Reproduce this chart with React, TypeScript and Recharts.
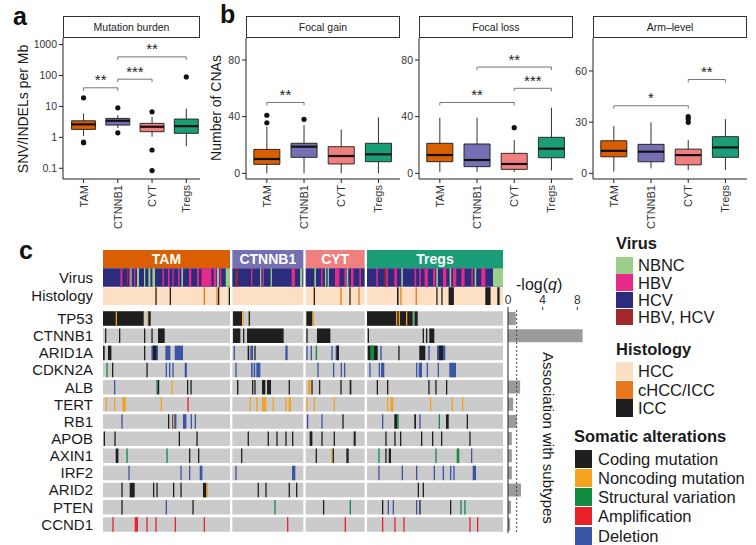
import React from 'react'
import { ComposedChart, BarChart, Bar, Scatter, XAxis, YAxis, ReferenceArea, ReferenceLine } from 'recharts'

const groups = ['TAM', 'CTNNB1', 'CYT', 'Tregs']
const groupColors = ['#D95F02', '#7570B3', '#F08080', '#1B9E77']

// a: mutation burden, SNV/INDELs per Mb (log scale)
const burdenLow = [1.1, 2.0, 1.05, 0.52]
const burdenQ1 = [1.81, 2.49, 1.52, 1.35]
const burdenMedian = [2.63, 3.43, 2.2, 2.3]
const burdenQ3 = [3.43, 4.1, 2.83, 3.9]
const burdenHigh = [5.9, 5.2, 4.6, 8.6]
const burdenOutliers = [[18.9, 0.67, 0.7], [9.0, 1.4], [6.7, 0.39, 0.084], [90]]
const burdenBrackets: [number, number, number, string][] = [[1, 2, 40, '**'], [2, 3, 76, '***'], [2, 4, 400, '**']]

// b: number of CNAs
const gainLow = [0, 0, 0, 0]
const gainQ1 = [6.35, 11.3, 6.6, 8.2]
const gainMedian = [10.1, 18.8, 12.2, 13.4]
const gainQ3 = [16.9, 21.2, 18.8, 21.2]
const gainHigh = [33, 34, 31, 39.5]
const gainOutliers = [[41, 35.7], [38.1], [], []]
const gainBrackets: [number, number, number, string][] = [[1, 2, 50, '**']]

const lossLow = [1, 1, 1, 2]
const lossQ1 = [8.2, 4.7, 2.8, 11]
const lossMedian = [12.9, 9.4, 6.6, 17.4]
const lossQ3 = [21.2, 20.7, 14.1, 25.4]
const lossHigh = [39.2, 39.2, 23.5, 46.3]
const lossOutliers = [[], [], [32.2], []]
const lossBrackets: [number, number, number, string][] = [[1, 3, 50, '**'], [3, 4, 60, '***'], [2, 4, 75, '**']]

const armLow = [1, 2.9, 1.9, 1.9]
const armQ1 = [9.7, 6.8, 5, 9.4]
const armMedian = [13.2, 12.7, 10.7, 15.2]
const armQ3 = [19.1, 17, 14.2, 21.5]
const armHigh = [27.7, 29.9, 19.5, 31.8]
const armOutliers = [[], [], [33.2, 31.8, 29.9], []]
const armBrackets: [number, number, number, string][] = [[1, 3, 39.6, '*'], [3, 4, 55, '**']]

// c: oncoprint
const genes = ['TP53', 'CTNNB1', 'ARID1A', 'CDKN2A', 'ALB', 'TERT', 'RB1', 'APOB', 'AXIN1', 'IRF2', 'ARID2', 'PTEN', 'CCND1']
const groupSizes = [127, 71, 59, 136]
const logQ = [0.9, 8.6, 0, 0, 1.4, 0.6, 1.0, 0.45, 0.45, 0.45, 1.5, 0.35, 0.25]

const virusTypes = ['NBNC', 'HBV', 'HCV', 'HBV, HCV']
const virusColors = ['#9BD08C', '#E7298A', '#2B2C7C', '#A3292C']
const histTypes = ['HCC', 'cHCC/ICC', 'ICC']
const histColors = ['#FDE0C4', '#E8781F', '#1E1E1E']
const altTypes = ['Coding mutation', 'Noncoding mutation', 'Structural variation', 'Amplification', 'Deletion']
const altColors = ['#1F1F1F', '#F5A31F', '#118C40', '#E8212B', '#3A55A6']

// [group, offset, width, virus index] on an HCV background
const virusStripes: [number, number, number, number][] = [
  [0, 17.4, 2, 1], [0, 24, 1, 3], [0, 26, 1.3, 1], [0, 27.4, 1.3, 0], [0, 31, 1.3, 1], [0, 34, 2, 0], [0, 41, 1.3, 0],
  [0, 45.4, 2, 0], [0, 49.4, 2.6, 0], [0, 59.4, 1.6, 1], [0, 65, 1.6, 1], [0, 69.4, 1.3, 1], [0, 75, 1.6, 1],
  [0, 78.4, 1.6, 0], [0, 86, 2.3, 1], [0, 94, 2, 1], [0, 98.4, 10, 1], [0, 110.7, 2.6, 1], [0, 114, 2, 0],
  [0, 116.7, 1.6, 1], [0, 122.7, 4.3, 0],
  [1, 3.3, 2, 3], [1, 18.7, 1.3, 1], [1, 27.7, 1.3, 0], [1, 30.3, 1.3, 1], [1, 38.3, 1.3, 0], [1, 59.3, 3.3, 1], [1, 67.7, 2.3, 0],
  [2, 8.7, 1.6, 0], [2, 15.3, 1.6, 1], [2, 19.3, 1.3, 0], [2, 22, 1.3, 0], [2, 29.3, 4.4, 1], [2, 38.7, 2, 1],
  [2, 41, 1.6, 0], [2, 45.3, 2.6, 1], [2, 53.7, 1.6, 1],
  [3, 9.3, 1.6, 1], [3, 17.6, 1.6, 3], [3, 19.3, 1.6, 1], [3, 27.3, 2.6, 1], [3, 34.3, 1.6, 0], [3, 47.6, 1.6, 1],
  [3, 52.3, 1.6, 1], [3, 57.6, 3.3, 1], [3, 66, 2.3, 1], [3, 69.3, 1.6, 0], [3, 76, 3.3, 1], [3, 82.6, 1.6, 0],
  [3, 86, 3.3, 1], [3, 94.3, 3.3, 1], [3, 104.3, 1.6, 1], [3, 107.6, 1.6, 0], [3, 114.3, 4, 1], [3, 126, 10, 0],
]

// [group, offset, width, histology index] on an HCC background
const histStripes: [number, number, number, number][] = [
  [0, 52.4, 1.3, 2], [0, 66.7, 1.3, 2], [0, 100.7, 1.3, 1], [0, 113.4, 1.3, 1], [0, 115, 1.3, 2], [0, 125.7, 1.3, 2],
  [2, 8, 1.3, 2], [2, 34.7, 1.3, 1], [2, 43.7, 1.3, 2], [2, 52.7, 1.3, 1],
  [3, 30, 1.6, 2], [3, 33.3, 1.3, 1], [3, 48.6, 1.3, 1], [3, 69.3, 1.3, 2], [3, 74.3, 1.3, 2], [3, 81.6, 5.3, 2],
  [3, 118.3, 5.3, 2], [3, 130.3, 2.3, 2],
]

// [group, offset, width, alteration index] per gene
const alterations: Record<string, [number, number, number, number][]> = {
  TP53: [[0, 0, 40.7, 0], [0, 12.7, 1.3, 1], [0, 44.4, 1.3, 1], [0, 45.3, 2.4, 0], [1, 0.7, 9, 0], [1, 10.3, 1.3, 1],
    [1, 16.3, 1.4, 0], [2, 0.7, 6, 0], [2, 7, 1.4, 1], [3, 0, 45.7, 0], [3, 29, 1.3, 1], [3, 31.7, 1.3, 1],
    [3, 39, 1.3, 1], [3, 46.5, 1.4, 2], [3, 48, 2.7, 0]],
  CTNNB1: [[0, 2, 1.3, 0], [0, 16, 1.3, 0], [0, 41, 1.3, 0], [0, 48.4, 1.3, 0], [0, 55, 6.7, 0], [1, 0.7, 7.3, 0],
    [1, 10.7, 1.3, 0], [1, 14.7, 36.6, 0], [2, 0.7, 1.3, 0], [2, 11.3, 13.4, 0], [3, 0.7, 1.3, 0], [3, 55.7, 1.3, 0],
    [3, 59, 1.3, 0], [3, 62.3, 5, 0]],
  ARID1A: [[0, 0, 1.7, 0], [0, 5, 3.4, 0], [0, 41, 1.3, 0], [0, 48.4, 6.6, 4], [0, 50, 3.4, 0], [0, 62.4, 5, 4],
    [0, 71.7, 8.3, 4], [1, 1.3, 1.3, 4], [1, 15.3, 1.6, 0], [1, 18, 2.7, 4], [1, 22, 1.3, 0], [1, 53, 2.3, 4],
    [2, 0.7, 1.3, 4], [2, 5, 1.3, 4], [2, 10, 1.4, 2], [2, 25.7, 1.3, 4], [2, 30, 3.3, 4], [2, 31, 2.3, 0],
    [3, 0.7, 10, 0], [3, 3.3, 3.7, 2], [3, 13.3, 1.4, 4], [3, 31.3, 1.3, 0], [3, 52.3, 6, 0], [3, 61.3, 1.4, 4],
    [3, 70, 8.3, 4], [3, 72, 4, 0]],
  CDKN2A: [[0, 3.4, 1.3, 2], [0, 9, 1.3, 0], [0, 43.4, 1.3, 0], [0, 62.7, 1.3, 4], [0, 66, 1.3, 4], [0, 69.4, 1.3, 4],
    [0, 81.7, 2.2, 4], [1, 3, 1.3, 4], [1, 18.7, 1.6, 4], [1, 21.3, 1.6, 4], [1, 24, 4, 4], [2, 11.7, 1.3, 4],
    [2, 27.3, 1.3, 4], [2, 35, 1.3, 4], [2, 38.3, 1.3, 4], [3, 2.3, 1.3, 4], [3, 11.7, 1.3, 4], [3, 14, 3.3, 4],
    [3, 49, 1.3, 4], [3, 51.7, 3.3, 4], [3, 59.7, 1.3, 4], [3, 70.7, 1.3, 4], [3, 82.3, 6.7, 4]],
  ALB: [[0, 11, 1.3, 4], [0, 53.4, 1.2, 2], [0, 54.6, 1.6, 0], [0, 68.4, 1.3, 1], [0, 84, 1.3, 0], [0, 87.4, 1.3, 0],
    [1, 4.7, 1.4, 0], [1, 19.7, 1.3, 0], [1, 22, 1.3, 0], [1, 29.7, 3.3, 0], [1, 34.7, 4, 0], [1, 56.3, 1.3, 0],
    [2, 2.3, 2.4, 1], [2, 5.7, 1.3, 0], [2, 13.3, 1.3, 0], [2, 34.7, 1.3, 0], [2, 44, 1.7, 0],
    [3, 9.7, 1.3, 0], [3, 20, 1.3, 0], [3, 61.3, 1.3, 0], [3, 68.3, 1.3, 0], [3, 79, 1.3, 0]],
  TERT: [[0, 2.7, 1.3, 1], [0, 11, 1.3, 1], [0, 19.4, 3.3, 1], [0, 57.7, 1.3, 1], [0, 84.4, 1.3, 3],
    [1, 17.3, 1.3, 1], [1, 24, 1.3, 1], [1, 29.7, 4.3, 1], [1, 40.3, 1.3, 1], [1, 53, 1.3, 1], [1, 56.3, 2.4, 1],
    [2, 0.7, 1.3, 1], [2, 8, 1.3, 1], [2, 28, 1.3, 1],
    [3, 20, 1.3, 1], [3, 23.3, 3, 1], [3, 63, 1.3, 1], [3, 84.7, 1.3, 1], [3, 95, 1.3, 1]],
  RB1: [[0, 18.4, 1.3, 4], [0, 65, 1.3, 0], [0, 69, 4.4, 4], [0, 70, 1.3, 1], [0, 80, 3.4, 4], [0, 87.7, 1.3, 4],
    [0, 91.7, 1.3, 4], [2, 1.3, 1.3, 4], [2, 15.7, 1.3, 4], [2, 36.7, 1.3, 0],
    [3, 15, 1.3, 4], [3, 27.3, 3, 0], [3, 30.3, 1.4, 2], [3, 47.3, 1.7, 0], [3, 52.3, 1.3, 4], [3, 71.7, 1.3, 2],
    [3, 79, 2.7, 0], [3, 99.7, 1.3, 0]],
  APOB: [[0, 0.7, 1.3, 0], [0, 11.4, 1.3, 0], [0, 75.7, 1.3, 0], [0, 93.4, 1.3, 0],
    [1, 15.3, 1.3, 0], [1, 35.3, 1.3, 0], [1, 44, 1.3, 0], [1, 53, 1.3, 0], [1, 59.7, 1.3, 0],
    [2, 4, 2.7, 0], [2, 15.7, 1.3, 0], [2, 28, 1.3, 0], [2, 48, 2, 0],
    [3, 18.3, 1.3, 0], [3, 27.3, 1.3, 0], [3, 33, 1.3, 0], [3, 54, 1.3, 0], [3, 65, 1.3, 0], [3, 74, 1.3, 0],
    [3, 102.3, 1.3, 0]],
  AXIN1: [[0, 12.7, 2.7, 0], [0, 23.4, 1.3, 2], [0, 63.4, 1.3, 2], [0, 86, 1.3, 0], [0, 95, 1.3, 0],
    [1, 8.7, 1.3, 0], [2, 10, 1.3, 0], [2, 25.7, 1.3, 1], [2, 27, 1.3, 0], [2, 40.7, 2.3, 0],
    [3, 11.3, 1.3, 2], [3, 18.3, 1.3, 0], [3, 21.7, 2.3, 0], [3, 68.3, 1.3, 2], [3, 89.7, 2.6, 2], [3, 104, 1.3, 4]],
  IRF2: [[0, 25.4, 1.3, 4], [0, 77.4, 1.3, 4], [0, 86, 1.3, 4], [0, 96.7, 2.7, 4], [1, 3, 1.3, 4], [1, 59.7, 3.3, 4],
    [3, 11.3, 1.3, 4], [3, 34.7, 1.3, 4], [3, 49, 1.3, 4], [3, 66.7, 1.3, 4], [3, 75.7, 1.3, 4], [3, 83, 1.3, 4],
    [3, 86.3, 1.3, 4], [3, 105.7, 3.3, 4]],
  ARID2: [[0, 18.4, 1.3, 0], [0, 26.7, 5, 0], [0, 50, 1.3, 0], [0, 53.4, 1.3, 0], [0, 70, 1.3, 0], [0, 77.4, 1.3, 0],
    [0, 100, 3.4, 0], [0, 103.6, 1.3, 1], [1, 25.3, 1.3, 0], [1, 33, 1.3, 0], [1, 56.3, 1.3, 0], [1, 63.7, 1.3, 0],
    [3, 50.7, 1.3, 0], [3, 55.7, 1.3, 0]],
  PTEN: [[0, 18.4, 1.3, 0], [0, 62.7, 1.3, 4], [0, 89.4, 1.3, 0], [1, 42, 1.3, 2], [2, 17.3, 1.3, 0], [2, 44, 1.3, 2],
    [3, 15, 1.3, 0], [3, 20.7, 1.3, 4], [3, 25.7, 1.3, 4], [3, 49, 1.3, 4], [3, 52.3, 1.3, 0], [3, 83, 1.3, 0],
    [3, 93.3, 1.3, 2], [3, 97.3, 1.3, 2]],
  CCND1: [[0, 9.4, 1.3, 3], [0, 31.7, 3.3, 3], [0, 43.4, 1.3, 3], [0, 52.4, 1.3, 3], [0, 71.7, 1.3, 3],
    [0, 100.7, 1.3, 3], [1, 54.7, 1.3, 3], [2, 39, 1.3, 3],
    [3, 15, 1.3, 3], [3, 27.3, 1.3, 3], [3, 36.3, 1.3, 3], [3, 102.3, 1.3, 3], [3, 110, 1.3, 3]],
}

const FONT = "'Liberation Sans', Arial, Helvetica, sans-serif"
const TOTAL = 400
const gap = (TOTAL - groupSizes.reduce((a, b) => a + b, 0)) / (groupSizes.length - 1)
const starts = groupSizes.map((_, i) => groupSizes.slice(0, i).reduce((a, b) => a + b + gap, 0))

type Facet = {
  title: string
  left: number
  plotW: number
  yW: number
  xDomain: [number, number]
  domain: [number, number]
  ticks: number[]
  log?: boolean
  low: number[]
  q1: number[]
  med: number[]
  q3: number[]
  high: number[]
  outliers: number[][]
  brackets: [number, number, number, string][]
}

const facets: Facet[] = [
  { title: 'Mutation burden', left: 63, plotW: 137, yW: 63, xDomain: [0.4, 4.4], domain: [0.045, 1630], ticks: [0.1, 1, 10, 100, 1000], log: true,
    low: burdenLow, q1: burdenQ1, med: burdenMedian, q3: burdenQ3, high: burdenHigh, outliers: burdenOutliers, brackets: burdenBrackets },
  { title: 'Focal gain', left: 246, plotW: 154, yW: 26, xDomain: [0.44, 4.58], domain: [-4, 95.5], ticks: [0, 40, 80],
    low: gainLow, q1: gainQ1, med: gainMedian, q3: gainQ3, high: gainHigh, outliers: gainOutliers, brackets: gainBrackets },
  { title: 'Focal loss', left: 419, plotW: 154, yW: 26, xDomain: [0.44, 4.58], domain: [-4, 95.5], ticks: [0, 40, 80],
    low: lossLow, q1: lossQ1, med: lossMedian, q3: lossQ3, high: lossHigh, outliers: lossOutliers, brackets: lossBrackets },
  { title: 'Arm\u2013level', left: 593, plotW: 154, yW: 26, xDomain: [0.44, 4.58], domain: [-3.3, 79.3], ticks: [0, 30, 60],
    low: armLow, q1: armQ1, med: armMedian, q3: armQ3, high: armHigh, outliers: armOutliers, brackets: armBrackets },
]

const GroupTick = (p: any) => {
  const { x, y, payload } = p
  return (
    <text x={x} y={y} transform={`rotate(-90 ${x} ${y})`} textAnchor="end" dy="0.36em" fontSize={11} fill="#333">
      {groups[Math.round(payload.value) - 1]}
    </text>
  )
}

const bracketShape = (stars: string) => (p: any) => (
  <g>
    <path d={`M${p.x1},${p.y1 + 3}V${p.y1}H${p.x2}V${p.y2 + 3}`} fill="none" stroke="#666" strokeWidth={0.9} />
    <text x={(p.x1 + p.x2) / 2} y={p.y1 - 2.5} textAnchor="middle" fontSize={15} fill="#222">{stars}</text>
  </g>
)

const noMark = () => <g />

function BoxFacet({ f }: { f: Facet }) {
  const hw = 0.35
  const pts = f.outliers.flatMap((vals, i) => vals.map((v) => ({ x: i + 1, y: v })))
  return (
    <>
      <div style={{ position: 'absolute', left: f.left, top: 16, width: f.plotW, height: 22, boxSizing: 'border-box',
        border: '1px solid #333', fontSize: 10.5, color: '#222', textAlign: 'center', lineHeight: '20px' }}>{f.title}</div>
      <div style={{ position: 'absolute', left: f.left - f.yW, top: 0 }}>
        <ComposedChart width={f.yW + f.plotW} height={230} margin={{ top: 38, right: 0, bottom: 0, left: 0 }}>
          <XAxis type="number" dataKey="x" domain={f.xDomain} ticks={[1, 2, 3, 4]} interval={0} allowDataOverflow height={51}
            tickSize={4} tickMargin={2} tick={(p: any) => <GroupTick {...p} />} axisLine={{ stroke: '#222' }} tickLine={{ stroke: '#222' }} />
          <YAxis type="number" dataKey="y" scale={f.log ? 'log' : 'linear'} domain={f.domain} ticks={f.ticks} interval={0}
            allowDataOverflow width={f.yW} tickSize={4} tickMargin={2} tick={{ fontSize: 10.5, fill: '#333' }}
            axisLine={{ stroke: '#222' }} tickLine={{ stroke: '#222' }} />
          {f.q1.map((q, i) => (
            <ReferenceArea key={`box${i}`} x1={i + 1 - hw} x2={i + 1 + hw} y1={q} y2={f.q3[i]} fill={groupColors[i]}
              fillOpacity={1} stroke="#1a1a1a" strokeWidth={0.9} ifOverflow="visible" />
          ))}
          {f.q1.map((q, i) => (
            <ReferenceLine key={`wl${i}`} segment={[{ x: i + 1, y: f.low[i] }, { x: i + 1, y: q }]} stroke="#1a1a1a" strokeWidth={0.9} ifOverflow="visible" />
          ))}
          {f.q3.map((q, i) => (
            <ReferenceLine key={`wh${i}`} segment={[{ x: i + 1, y: q }, { x: i + 1, y: f.high[i] }]} stroke="#1a1a1a" strokeWidth={0.9} ifOverflow="visible" />
          ))}
          {f.med.map((m, i) => (
            <ReferenceLine key={`md${i}`} segment={[{ x: i + 1 - hw, y: m }, { x: i + 1 + hw, y: m }]} stroke="#111" strokeWidth={2.2} ifOverflow="visible" />
          ))}
          {f.brackets.map(([a, b, y, s], i) => (
            <ReferenceLine key={`br${i}`} segment={[{ x: a, y }, { x: b, y }]} ifOverflow="visible" shape={bracketShape(s)} />
          ))}
          <Scatter data={pts} isAnimationActive={false} shape={(p: any) => <circle cx={p.cx} cy={p.cy} r={2.6} fill="#111" />} />
        </ComposedChart>
      </div>
    </>
  )
}

function Annotation() {
  const rowLabels = ['', 'Virus', 'Histology']
  const anchors = groups.map((g, i) => ({ x: starts[i] + groupSizes[i] / 2, y: 0.5 }))
  return (
    <div style={{ position: 'absolute', left: 0, top: 250 }}>
      <ComposedChart width={503} height={55} margin={{ top: 0, right: 0, bottom: 0, left: 0 }}>
        <XAxis type="number" dataKey="x" hide domain={[0, TOTAL]} allowDataOverflow />
        <YAxis type="number" dataKey="y" domain={[0, 3]} reversed allowDataOverflow ticks={[0.5, 1.5, 2.5]} interval={0} width={103}
          axisLine={false} tickLine={false} tickSize={0} tickMargin={10} tickFormatter={(v: number) => rowLabels[Math.floor(v)]}
          tick={{ fontSize: 15, fill: '#1a1a1a' }} />
        {groups.map((g, i) => (
          <ReferenceArea key={`h${i}`} x1={starts[i]} x2={starts[i] + groupSizes[i]} y1={0} y2={1} fill={groupColors[i]}
            fillOpacity={1} ifOverflow="visible"
            label={{ value: g, position: 'center', fill: '#fff', fontSize: 14, fontWeight: 700 }} />
        ))}
        {groups.map((g, i) => (
          <ReferenceArea key={`v${i}`} x1={starts[i]} x2={starts[i] + groupSizes[i]} y1={1} y2={2} fill={virusColors[2]}
            fillOpacity={1} ifOverflow="visible" />
        ))}
        {virusStripes.map(([g, o, w, t], i) => (
          <ReferenceArea key={`vs${i}`} x1={starts[g] + o} x2={starts[g] + o + w} y1={1} y2={2} fill={virusColors[t]}
            fillOpacity={1} ifOverflow="visible" />
        ))}
        {groups.map((g, i) => (
          <ReferenceArea key={`hi${i}`} x1={starts[i]} x2={starts[i] + groupSizes[i]} y1={2.03} y2={3} fill={histColors[0]}
            fillOpacity={1} ifOverflow="visible" />
        ))}
        {histStripes.map(([g, o, w, t], i) => (
          <ReferenceArea key={`hs${i}`} x1={starts[g] + o} x2={starts[g] + o + w} y1={2.03} y2={3} fill={histColors[t]}
            fillOpacity={1} ifOverflow="visible" />
        ))}
        <Scatter data={anchors} isAnimationActive={false} shape={noMark} />
      </ComposedChart>
    </div>
  )
}

function GeneRows() {
  const h = 0.423
  const anchors = genes.map((g, r) => ({ x: TOTAL / 2, y: r }))
  return (
    <div style={{ position: 'absolute', left: 0, top: 310 }}>
      <ComposedChart width={503} height={223} margin={{ top: 0, right: 0, bottom: 0, left: 0 }}>
        <XAxis type="number" dataKey="x" hide domain={[0, TOTAL]} allowDataOverflow />
        <YAxis type="number" dataKey="y" domain={[-0.5, genes.length - 0.5]} reversed allowDataOverflow ticks={genes.map((_, i) => i)}
          interval={0} width={103} axisLine={false} tickLine={false} tickSize={0} tickMargin={10}
          tickFormatter={(v: number) => genes[v]} tick={{ fontSize: 15, fill: '#1a1a1a' }} />
        {genes.flatMap((gene, r) =>
          groups.map((g, i) => (
            <ReferenceArea key={`bg${r}-${i}`} x1={starts[i]} x2={starts[i] + groupSizes[i]} y1={r - h} y2={r + h}
              fill="#CBCBCB" fillOpacity={1} ifOverflow="visible" />
          ))
        )}
        {genes.flatMap((gene, r) =>
          alterations[gene].map(([g, o, w, t], k) => (
            <ReferenceArea key={`ev${r}-${k}`} x1={starts[g] + o} x2={starts[g] + o + w} y1={r - h} y2={r + h}
              fill={altColors[t]} fillOpacity={1} ifOverflow="visible" />
          ))
        )}
        <Scatter data={anchors} isAnimationActive={false} shape={noMark} />
      </ComposedChart>
    </div>
  )
}

function QBars() {
  const data = genes.map((g, i) => ({ gene: g, q: logQ[i] }))
  return (
    <div style={{ position: 'absolute', left: 495, top: 290 }}>
      <BarChart layout="vertical" data={data} width={91} height={243} margin={{ top: 0, right: 0, bottom: 0, left: 0 }}>
        <XAxis type="number" orientation="top" domain={[0, 9]} ticks={[0, 4, 8]} interval={0} height={20} axisLine={false}
          tickSize={3} tickMargin={3} tick={{ fontSize: 12, fill: '#333' }} tickLine={{ stroke: '#333' }} />
        <YAxis type="category" dataKey="gene" width={13} tick={false} tickLine={false} axisLine={{ stroke: '#222' }} />
        <Bar dataKey="q" fill="#9B9B9B" barSize={13} isAnimationActive={false} />
        <ReferenceLine x={1} stroke="#333" strokeDasharray="2 2" strokeWidth={0.9} />
      </BarChart>
    </div>
  )
}

function LegendBlock({ title, names, colors, titleX, titleY, swX, y0, pitch, swW, swH, textX }: any) {
  return (
    <>
      <div style={{ position: 'absolute', left: titleX, top: titleY - 10, height: 20, lineHeight: '20px', fontSize: 16.5,
        fontWeight: 700, color: '#1a1a1a', whiteSpace: 'nowrap' }}>{title}</div>
      {names.map((n: string, i: number) => (
        <React.Fragment key={n}>
          <div style={{ position: 'absolute', left: swX, top: y0 + i * pitch - swH / 2, width: swW, height: swH, background: colors[i] }} />
          <div style={{ position: 'absolute', left: textX, top: y0 + i * pitch - 10, height: 20, lineHeight: '20px',
            fontSize: 16.5, color: '#1a1a1a', whiteSpace: 'nowrap' }}>{n}</div>
        </React.Fragment>
      ))}
    </>
  )
}

export default function App() {
  const letter = { position: 'absolute' as const, fontSize: 25, fontWeight: 700, lineHeight: '28px', color: '#111' }
  return (
    <div style={{ position: 'absolute', left: 0, top: 0, width: 756, height: 545, background: '#fff', overflow: 'hidden', fontFamily: FONT }}>
      <div style={{ ...letter, left: 13, top: 2 }}>a</div>
      <div style={{ ...letter, left: 220, top: 0 }}>b</div>
      <div style={{ ...letter, left: 19, top: 236 }}>c</div>

      {facets.map((f) => <BoxFacet key={f.title} f={f} />)}

      <div style={{ position: 'absolute', left: 23, top: 109, transform: 'translate(-50%, -50%) rotate(-90deg)', fontSize: 14,
        whiteSpace: 'nowrap', color: '#1a1a1a' }}>SNV/INDELs per Mb</div>
      <div style={{ position: 'absolute', left: 216, top: 108, transform: 'translate(-50%, -50%) rotate(-90deg)', fontSize: 14,
        whiteSpace: 'nowrap', color: '#1a1a1a' }}>Number of CNAs</div>

      <Annotation />
      <GeneRows />
      <QBars />

      <div style={{ position: 'absolute', left: 516, top: 275, fontSize: 16, lineHeight: '20px', color: '#1a1a1a' }}>
        -log(<i>q</i>)
      </div>
      <div style={{ position: 'absolute', left: 548, top: 438, transform: 'translate(-50%, -50%) rotate(90deg)', fontSize: 15,
        whiteSpace: 'nowrap', color: '#1a1a1a' }}>Association with subtypes</div>

      <LegendBlock title="Virus" names={virusTypes} colors={virusColors} titleX={616} titleY={243} swX={616} y0={265.3}
        pitch={17.3} swW={17} swH={16.5} textX={638} />
      <LegendBlock title="Histology" names={histTypes} colors={histColors} titleX={616} titleY={349} swX={616} y0={370.8}
        pitch={18.7} swW={17} swH={18} textX={638} />
      <LegendBlock title="Somatic alterations" names={altTypes} colors={altColors} titleX={574} titleY={436} swX={575} y0={458.7}
        pitch={19.2} swW={17} swH={18} textX={598} />
    </div>
  )
}
